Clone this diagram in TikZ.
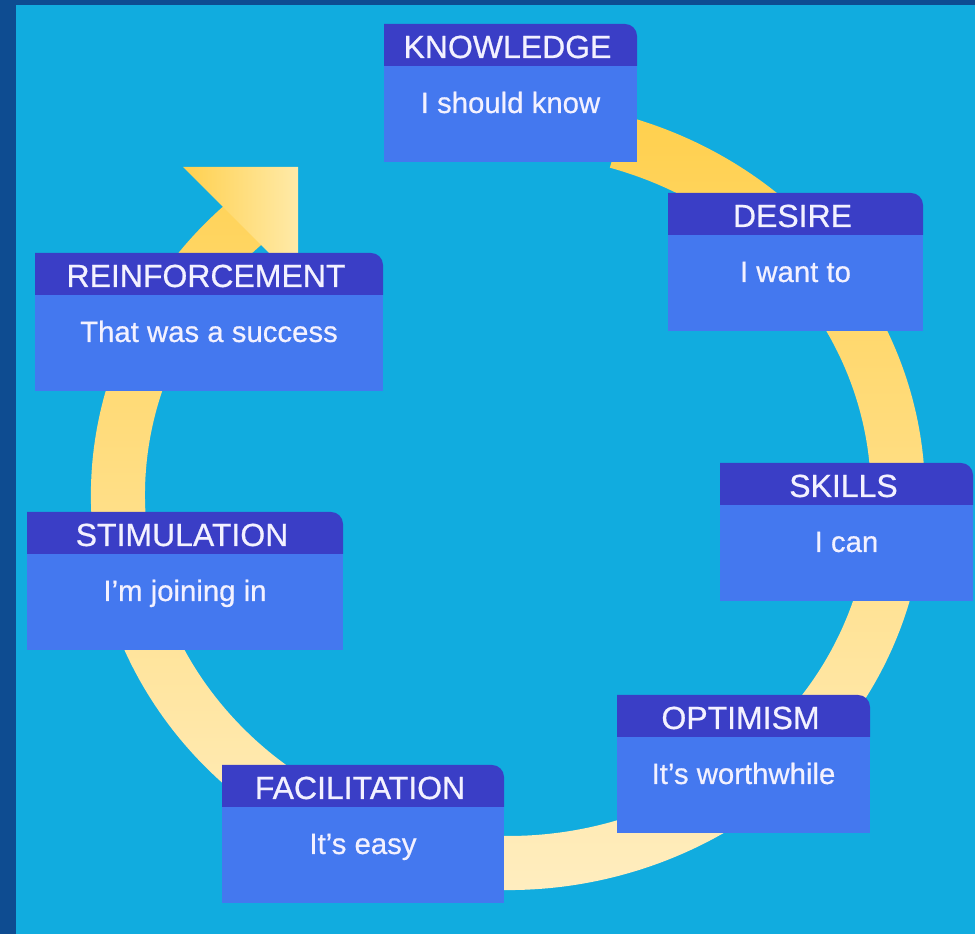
\documentclass[tikz,border=0pt]{standalone}
\usepackage{fontspec}
\setmainfont{Liberation Sans}
\newfontfamily\cardfont[FakeBold = 0.6]{Liberation Sans}
\definecolor{frame}{HTML}{0E4C91}
\definecolor{sea}{HTML}{11ACDF}
\definecolor{cardhead}{HTML}{3A3EC6}
\definecolor{cardbody}{HTML}{4478EF}
\definecolor{cardtext}{HTML}{F3F1FF}
\definecolor{ringtop}{HTML}{FFD04E}
\definecolor{ringlow}{HTML}{FFEFC6}
\definecolor{ringpale}{HTML}{FFEAA8}
\begin{document}
\begin{tikzpicture}[x = .02cm, y = .02cm,
	headtext/.style = {text = cardtext, font = \cardfont\fontsize{18.2}{20}\selectfont, inner sep = 0, anchor = base},
	bodytext/.style = {text = cardtext, font = \cardfont\fontsize{16.7}{19}\selectfont, inner sep = 0, anchor = base}]
	\fill [frame] (0, 0) rectangle (975, 934);
	\fill [sea] (16, 0) rectangle (975, 929);
	% the ring, clockwise from under the first card
	\begin{scope}
	\shade [top color = ringtop, bottom color = ringlow] (625, 818.1) arc [start angle = 73.7, end angle = -230, x radius = 417, y radius = 395]
		-- ++(-50:54) arc [start angle = -230, end angle = 73.7, x radius = 363, y radius = 341] -- cycle;
	\shade [left color = ringtop, right color = ringpale] (183, 767) -- (298, 767) -- (298, 652) -- cycle;
	\end{scope}
	\foreach \name/\xa/\xb/\ya/\head/\body in {
		know/384/637/910/KNOWLEDGE/I should know,
		desire/668/923/741/DESIRE/I want to,
		skills/720/973/471/SKILLS/I can,
		optim/617/870/239/OPTIMISM/It’s worthwhile,
		facil/222/504/169/FACILITATION/It’s easy,
		stim/27/343/422/STIMULATION/I’m joining in,
		reinf/35/383/681/REINFORCEMENT/That was a success}{
		\fill [cardbody] (\xa, \ya - 138) rectangle (\xb, \ya - 41);
		\fill [cardhead] (\xa, \ya - 42) -- (\xa, \ya) -- (\xb - 12, \ya) arc [start angle = 90, end angle = 0, radius = 12] -- (\xb, \ya - 42) -- cycle;
		\node [headtext] (\name-head) at ({(\xa + \xb) / 2 - 3}, \ya - 34) {\head};
		\node [bodytext] (\name-body) at ({(\xa + \xb) / 2}, \ya - 89) {\body};}
\end{tikzpicture}
\end{document}
